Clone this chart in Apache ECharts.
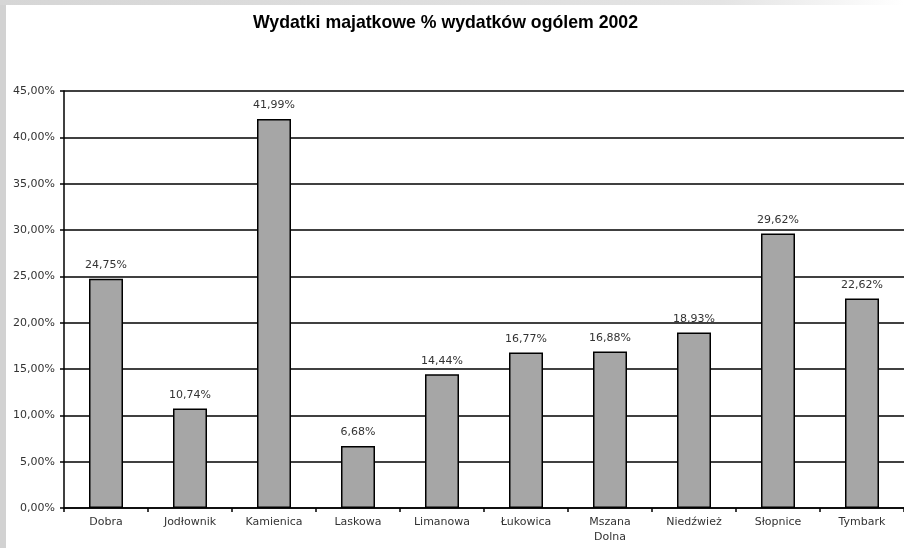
<!DOCTYPE html>
<html>
<head>
<meta charset="utf-8">
<script src="https://cdn.jsdelivr.net/npm/echarts@6/dist/echarts.min.js"></script>
<style>
html,body{margin:0;padding:0;background:#fff;}
#c{width:904px;height:548px;}
</style>
</head>
<body>
<div id="c"></div>
<script>
var titleText = 'Wydatki majatkowe % wydatków ogólem 2002';
var categories = ['Dobra', 'Jodłownik', 'Kamienica', 'Laskowa', 'Limanowa', 'Łukowica', 'Mszana\nDolna', 'Niedźwież', 'Słopnice', 'Tymbark'];
var values = [24.75, 10.74, 41.99, 6.68, 14.44, 16.77, 16.88, 18.93, 29.62, 22.62];
var yMin = 0, yMax = 45, yStep = 5;

function pct(v) { return v.toFixed(2).replace('.', ',') + '%'; }

var chart = echarts.init(document.getElementById('c'), null, {renderer: 'canvas'});
chart.setOption({
  backgroundColor: '#ffffff',
  animation: false,
  graphic: [
    {type: 'rect', left: 0, top: 0, shape: {width: 6, height: 548}, style: {fill: '#d2d2d2'}, z: 100},
    {type: 'rect', left: 0, top: 0, shape: {width: 904, height: 5}, style: {
      fill: new echarts.graphic.LinearGradient(0, 0, 1, 0, [
        {offset: 0, color: '#d6d6d6'}, {offset: 0.8, color: '#e4e4e4'}, {offset: 1, color: '#ffffff'}
      ])}, z: 100}
  ],
  title: {
    text: titleText,
    left: 248,
    top: 9,
    textStyle: {fontFamily: 'Liberation Sans', fontWeight: 'bold', fontSize: 17.7, color: '#000'}
  },
  grid: {left: 64, right: -9, top: 91, bottom: 40, containLabel: false},
  xAxis: {
    type: 'category',
    data: categories,
    axisLine: {lineStyle: {color: '#000', width: 1.5}},
    axisTick: {show: true, length: 4, lineStyle: {color: '#000', width: 1.5}},
    axisLabel: {fontFamily: 'DejaVu Sans', fontSize: 11, color: '#333', margin: 7, lineHeight: 15, interval: 0}
  },
  yAxis: {
    type: 'value',
    min: yMin, max: yMax, interval: yStep,
    axisLine: {show: true, lineStyle: {color: '#000', width: 1.5}},
    axisTick: {show: true, length: 4, lineStyle: {color: '#000', width: 1.5}},
    splitLine: {lineStyle: {color: '#000', width: 1.5}},
    axisLabel: {fontFamily: 'DejaVu Sans', fontSize: 11, color: '#333', margin: 9, formatter: pct}
  },
  series: [{
    type: 'bar',
    data: values,
    barWidth: 34,
    itemStyle: {color: '#a6a6a6', borderColor: '#000', borderWidth: 1.5},
    label: {
      show: true, position: 'top', distance: 8,
      fontFamily: 'DejaVu Sans', fontSize: 11, color: '#333',
      formatter: function (p) { return pct(p.value); }
    }
  }]
});
</script>
</body>
</html>
